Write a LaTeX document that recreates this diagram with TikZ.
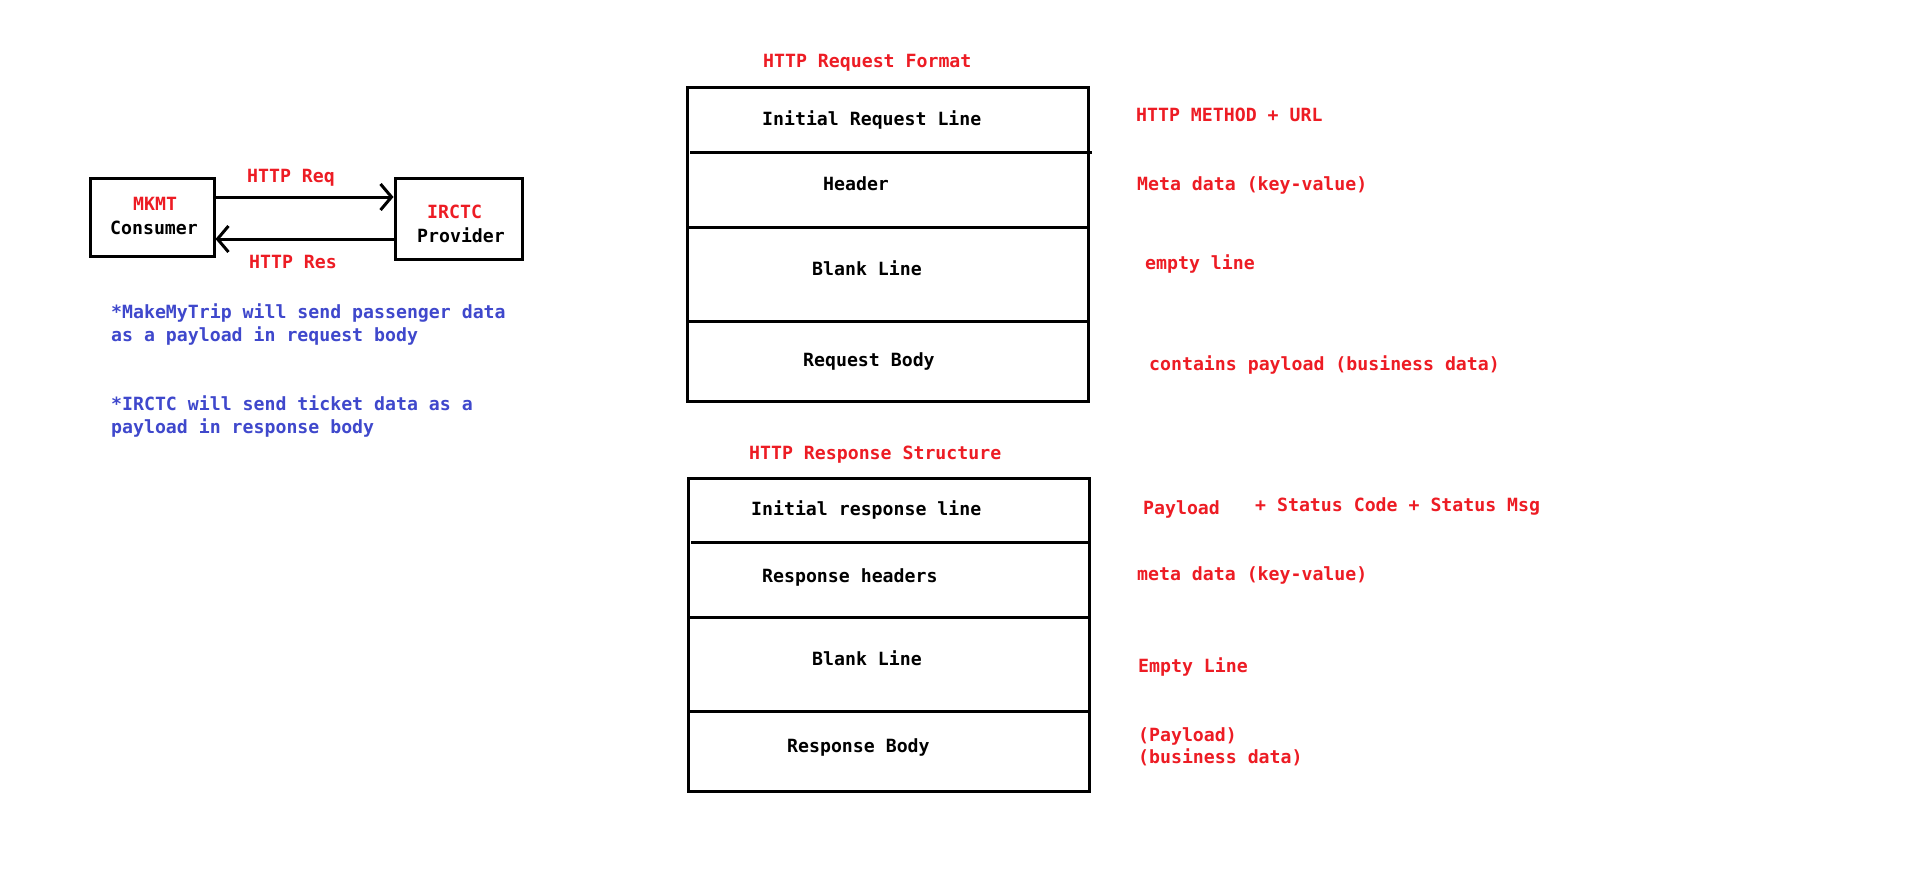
\documentclass[tikz,border=0pt]{standalone}
\usepackage{fontspec}
\setmonofont{DejaVu Sans Mono}
\usetikzlibrary{arrows.meta,calc}
\definecolor{pred}{HTML}{ED1C24}
\definecolor{pblue}{HTML}{3F48CC}
\begin{document}
\begin{tikzpicture}[x=1pt,y=-1pt,
  txt/.style={anchor=base west,inner sep=0pt,font=\ttfamily\bfseries\fontsize{18.2}{23}\selectfont},
  rtxt/.style={txt,text=pred},
  btxt/.style={txt,text=pblue},
  ktxt/.style={txt,text=black},
  frame/.style={draw=black,line width=3pt},
  bx/.style={draw=black,line width=3pt,inner sep=0pt},
  arr/.style={line width=3pt,-{Straight Barb[length=11pt,width=26pt,line width=3pt]}}]
\fill[white] (0,0) rectangle (1908,872);
\useasboundingbox (0,0) rectangle (1908,872);

% consumer / provider
\node[bx,minimum width=124pt,minimum height=78pt] (mk) at (152,217) {};
\node[bx,minimum width=127pt,minimum height=81pt] (ir) at (458.5,218.5) {};
\draw[arr] ([yshift=20pt]mk.east) -- ([yshift=20pt]mk.east -| ir.west);
\draw[arr] ([yshift=-22pt]mk.east -| ir.west) -- ([yshift=-22pt]mk.east);

\node[rtxt] (req) at (247,182.5) {HTTP Req};
\node[rtxt] (res) at (249,268.5) {HTTP Res};
\node[rtxt] (mkt) at (133,210.5) {MKMT};
\node[ktxt] (cons) at (110,234.5) {Consumer};
\node[rtxt] (irt) at (427,218.5) {IRCTC};
\node[ktxt] (prov) at (417,242.5) {Provider};

\node[btxt] (b1) at (111,318.5) {*MakeMyTrip will send passenger data};
\node[btxt] (b2) at (111,341.5) {as a payload in request body};
\node[btxt] (b3) at (111,410.5) {*IRCTC will send ticket data as a};
\node[btxt] (b4) at (111,433.5) {payload in response body};

% request format
\node[rtxt] (rqt) at (763,67.5) {HTTP Request Format};
\draw[frame] (687,88) rectangle (1088,401);
\draw[frame] (690,152) -- (1092,152);
\draw[frame] (687,227) -- (1090,227);
\draw[frame] (687,321) -- (1088,321);
\node[ktxt] (q1) at (762,125.5) {Initial Request Line};
\node[ktxt] (q2) at (823,190.5) {Header};
\node[ktxt] (q3) at (812,275.5) {Blank Line};
\node[ktxt] (q4) at (803,366.5) {Request Body};
\node[rtxt] (qa) at (1136,121.5) {HTTP METHOD + URL};
\node[rtxt] (qb) at (1137,190.5) {Meta data (key-value)};
\node[rtxt] (qc) at (1145,269.5) {empty line};
\node[rtxt] (qd) at (1149,370.5) {contains payload (business data)};

% response structure
\node[rtxt] (rst) at (749,459.5) {HTTP Response Structure};
\draw[frame] (688,478) rectangle (1089,791);
\draw[frame] (691,542) -- (1089,542);
\draw[frame] (688,617) -- (1091,617);
\draw[frame] (688,711) -- (1089,711);
\node[ktxt] (s1) at (751,515.5) {Initial response line};
\node[ktxt] (s2) at (762,582.5) {Response headers};
\node[ktxt] (s3) at (812,665.5) {Blank Line};
\node[ktxt] (s4) at (787,752.5) {Response Body};
\node[rtxt] (sa) at (1143,514.5) {Payload};
\node[rtxt] (sa2) at (1255,511.5) {+ Status Code + Status Msg};
\node[rtxt] (sb) at (1137,580.5) {meta data (key-value)};
\node[rtxt] (sc) at (1138,672.5) {Empty Line};
\node[rtxt] (sd) at (1138,741.5) {(Payload)};
\node[rtxt] (se) at (1138,763.5) {(business data)};
\end{tikzpicture}
\end{document}
